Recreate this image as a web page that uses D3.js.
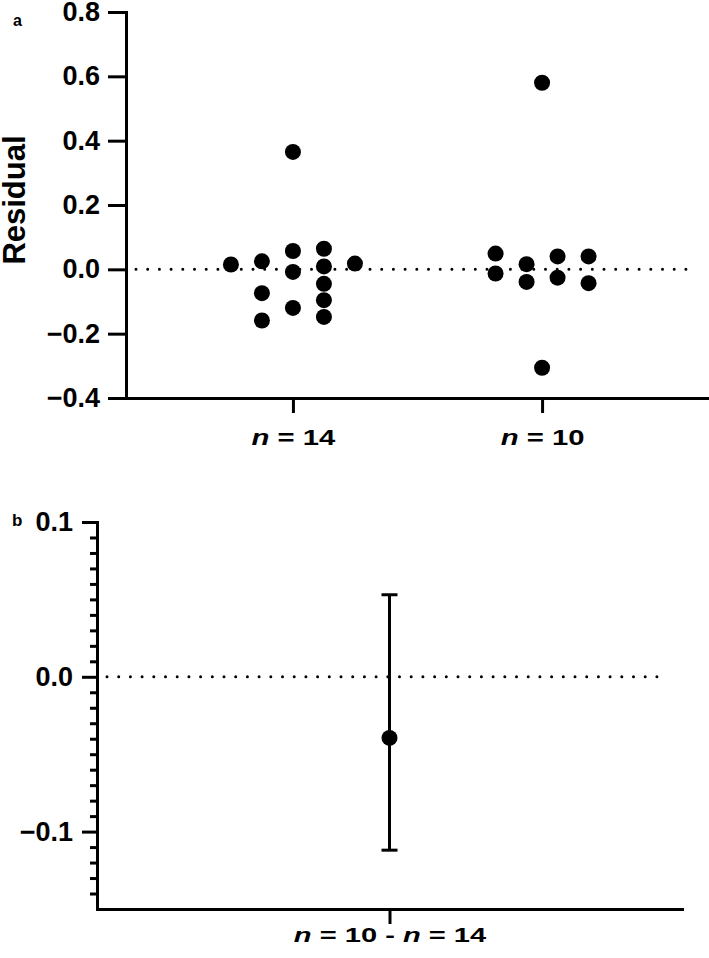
<!DOCTYPE html>
<meta charset="utf-8">
<head>
  <style>
    body { margin: 0; background: #fff; }
    text { font-family: Arial, "Liberation Sans", sans-serif; font-weight: bold; fill: #000; }
    .axis path, .axis line { stroke: #000; stroke-width: 3px; }
    .axis path { stroke-linecap: square; }
    .axis text { font-size: 27px; }
    .xaxis text { white-space: pre; }
  </style>
  <title></title>
</head>
<body>

<div id="my_dataviz"></div>

<script src="https://d3js.org/d3.v7.min.js"></script>
<script>

// panel a: residuals for each sample size
var groups = ["n = 14", "n = 10"];
var residN14 = [0.365, 0.057, -0.008, -0.120, 0.025, -0.074, -0.159, 0.064, 0.009, -0.045, -0.096, -0.148, 0.015, 0.018];
var residN10 = [0.580, -0.306, 0.040, -0.026, 0.016, -0.039, 0.040, -0.043, 0.049, -0.013];
var ticksA = [-0.4, -0.2, 0, 0.2, 0.4, 0.6, 0.8];

// panel b: difference of the two means with its interval
var diffLabel = ["n = 10 - n = 14"];
var diffMean = [-0.0395];
var diffLow = [-0.112];
var diffHigh = [0.053];
var ticksB = [-0.1, 0, 0.1];

var W = 709, H = 958;
var r = 8, colStep = 31;

var svg = d3.select("#my_dataviz")
  .append("svg")
    .attr("width", W)
    .attr("height", H);

// put an italic "n" wherever it appears in a label; the figure's
// category labels are set in a wide face, so stretch them a bit
function italicN(sel, size, stretch) {
  sel.each(function() {
    var t = d3.select(this), s = t.text();
    t.text(null)
      .style("font-size", size + "px")
      .attr("transform", "scale(" + stretch + ",1)");
    s.split(/(n)/).forEach(function(part) {
      if (part === "") return;
      t.append("tspan")
        .style("font-style", part === "n" ? "italic" : "normal")
        .text(part);
    });
  });
}

// simple dot-plot dodge: place each point in the nearest free column,
// then centre every cluster of vertically overlapping points
function dodge(values, y) {
  var cand = [0];
  for (var k = 0.5; k <= 4; k += 0.5) cand.push(-k, k);
  var placed = [];
  values.forEach(function(v) {
    var py = y(v);
    for (var i = 0; i < cand.length; i++) {
      var ok = placed.every(function(p) {
        return Math.abs(p.off - cand[i]) > 0.999 || Math.abs(p.y - py) >= 2 * r;
      });
      if (ok) { placed.push({value: v, y: py, off: cand[i]}); break; }
    }
  });
  var parent = placed.map(function(d, i) { return i; });
  function find(i) { return parent[i] === i ? i : (parent[i] = find(parent[i])); }
  placed.forEach(function(a, i) {
    placed.forEach(function(b, j) {
      if (j > i && Math.abs(a.y - b.y) < 2 * r) parent[find(i)] = find(j);
    });
  });
  var ext = {};
  placed.forEach(function(d, i) {
    var c = find(i);
    if (!ext[c]) ext[c] = [d.off, d.off];
    ext[c][0] = Math.min(ext[c][0], d.off);
    ext[c][1] = Math.max(ext[c][1], d.off);
  });
  placed.forEach(function(d, i) {
    var e = ext[find(i)];
    d.off = d.off - (e[0] + e[1]) / 2;
  });
  return placed;
}

// ---------- panel a ----------
var xA = d3.scalePoint().domain(groups).range([126, 709]).padding(0.67);
var yA = d3.scaleLinear().domain([-0.4, 0.8]).range([398, 12]);

svg.append("line")
  .attr("x1", 136).attr("x2", 697)
  .attr("y1", yA(0)).attr("y2", yA(0))
  .attr("stroke", "#000").attr("stroke-width", 3)
  .attr("stroke-linecap", "round")
  .attr("stroke-dasharray", "0,11.7");

svg.append("g")
  .attr("class", "axis")
  .attr("transform", "translate(126,0)")
  .call(d3.axisLeft(yA).tickValues(ticksA).tickSize(18).tickSizeOuter(0)
    .tickPadding(8).tickFormat(d3.format(".1f")));

svg.append("g")
  .attr("class", "axis xaxis")
  .attr("transform", "translate(0,398)")
  .call(d3.axisBottom(xA).tickSize(15).tickSizeOuter(0).tickPadding(16))
  .selectAll(".tick text").call(italicN, 22, 1.33);

var series = [residN14, residN10];
series.forEach(function(vals, gi) {
  var pts = dodge(vals, yA);
  svg.append("g").selectAll("circle")
    .data(pts)
    .enter()
    .append("circle")
      .attr("cx", function(d) { return xA(groups[gi]) + d.off * colStep; })
      .attr("cy", function(d) { return yA(d.value); })
      .attr("r", r)
      .attr("fill", "#000");
});

svg.append("text")
  .attr("transform", "translate(25,200) rotate(-90)")
  .attr("text-anchor", "middle")
  .style("font-size", "31px")
  .text("Residual");

svg.append("text")
  .attr("x", 13).attr("y", 26)
  .style("font-size", "16px")
  .text("a");

// ---------- panel b ----------
var xB = d3.scalePoint().domain(diffLabel).range([97, 682]).padding(0.5);
var yB = d3.scaleLinear().domain([-0.15, 0.1]).range([909, 522]);

svg.append("line")
  .attr("x1", 107).attr("x2", 668)
  .attr("y1", yB(0)).attr("y2", yB(0))
  .attr("stroke", "#000").attr("stroke-width", 3)
  .attr("stroke-linecap", "round")
  .attr("stroke-dasharray", "0,11.7");

var minorB = d3.range(-14, 10).filter(function(i) { return i % 10 !== 0; })
  .map(function(i) { return i / 100; });

svg.append("g")
  .attr("class", "axis")
  .attr("transform", "translate(97,0)")
  .call(d3.axisLeft(yB).tickValues(minorB).tickSize(7).tickFormat(""))
  .select(".domain").remove();

svg.append("g")
  .attr("class", "axis")
  .attr("transform", "translate(97,0)")
  .call(d3.axisLeft(yB).tickValues(ticksB).tickSize(15).tickSizeOuter(0)
    .tickPadding(9).tickFormat(d3.format(".1f")));

svg.append("g")
  .attr("class", "axis xaxis")
  .attr("transform", "translate(0,909)")
  .call(d3.axisBottom(xB).tickSize(15).tickSizeOuter(0).tickPadding(3))
  .selectAll(".tick text").call(italicN, 20.5, 1.42);

var diffs = diffLabel.map(function(l, i) {
  return {label: l, mean: diffMean[i], low: diffLow[i], high: diffHigh[i]};
});

var eb = svg.append("g").selectAll("g")
  .data(diffs)
  .enter()
  .append("g");

eb.append("line")
  .attr("x1", function(d) { return xB(d.label); })
  .attr("x2", function(d) { return xB(d.label); })
  .attr("y1", function(d) { return yB(d.low); })
  .attr("y2", function(d) { return yB(d.high); })
  .attr("stroke", "#000").attr("stroke-width", 3);

["low", "high"].forEach(function(k) {
  eb.append("line")
    .attr("x1", function(d) { return xB(d.label) - 8; })
    .attr("x2", function(d) { return xB(d.label) + 8; })
    .attr("y1", function(d) { return yB(d[k]); })
    .attr("y2", function(d) { return yB(d[k]); })
    .attr("stroke", "#000").attr("stroke-width", 3);
});

eb.append("circle")
  .attr("cx", function(d) { return xB(d.label); })
  .attr("cy", function(d) { return yB(d.mean); })
  .attr("r", r)
  .attr("fill", "#000");

svg.append("text")
  .attr("x", 12).attr("y", 526)
  .style("font-size", "17px")
  .text("b");

</script>
</body>
